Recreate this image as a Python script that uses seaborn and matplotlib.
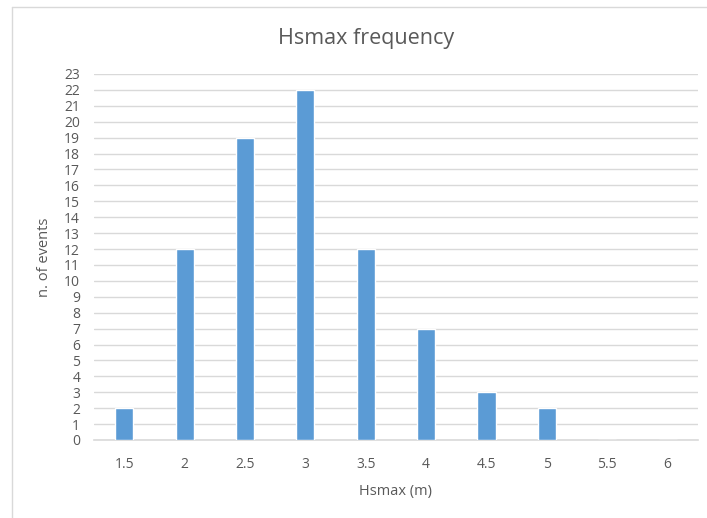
import matplotlib
matplotlib.use("Agg")
import matplotlib.pyplot as plt
import seaborn as sns
import pandas as pd
from matplotlib.lines import Line2D

# Frequency of maximum significant wave height
hs_classes = ["1.5", "2", "2.5", "3", "3.5", "4", "4.5", "5", "5.5", "6"]
n_events = [2, 12, 19, 22, 12, 7, 3, 2, 0, 0]
y_ticks = list(range(0, 24))

df = pd.DataFrame({"Hsmax": hs_classes, "events": n_events})

sns.set_theme(style="white")
plt.rcParams["font.family"] = ["Open Sans", "DejaVu Sans"]

text_color = "#595959"
grid_color = "#d9d9d9"
bar_color = "#5b9bd5"

fig = plt.figure(figsize=(7.07, 5.18), dpi=100)
ax = fig.add_axes([0.133, 0.1506, 0.854, 0.7066])

sns.barplot(data=df, x="Hsmax", y="events", color=bar_color, width=0.3,
            saturation=1, ax=ax, zorder=3)

ax.set_ylim(0, 23)
ax.set_yticks(y_ticks)
ax.set_yticklabels([str(v) for v in y_ticks])
ax.set_xlim(-0.5, len(hs_classes) - 0.5)

ax.yaxis.grid(True, color=grid_color, linewidth=1.0, zorder=0)
ax.xaxis.grid(False)
for side in ["top", "right", "left"]:
    ax.spines[side].set_visible(False)
ax.spines["bottom"].set_color(grid_color)
ax.spines["bottom"].set_linewidth(1.2)

ax.tick_params(axis="both", length=0, labelsize=10, colors=text_color)
ax.tick_params(axis="x", pad=12)
ax.tick_params(axis="y", pad=10)

ax.set_xlabel("Hsmax (m)", fontsize=10.5, color=text_color, labelpad=9)
ax.set_ylabel("n. of events", fontsize=10.5, color=text_color, labelpad=9)
fig.text(0.518, 0.926, "Hsmax frequency", ha="center", va="center",
         fontsize=15.5, color=text_color)

# Chart area frame on the left and top edges
fig.add_artist(Line2D([12 / 707, 12 / 707], [0, 1 - 7 / 518],
                      transform=fig.transFigure, color="#d9d9d9", lw=1))
fig.add_artist(Line2D([12 / 707, 1], [1 - 7 / 518, 1 - 7 / 518],
                      transform=fig.transFigure, color="#d9d9d9", lw=1))

fig.savefig("out.png", dpi=100, facecolor="white")
